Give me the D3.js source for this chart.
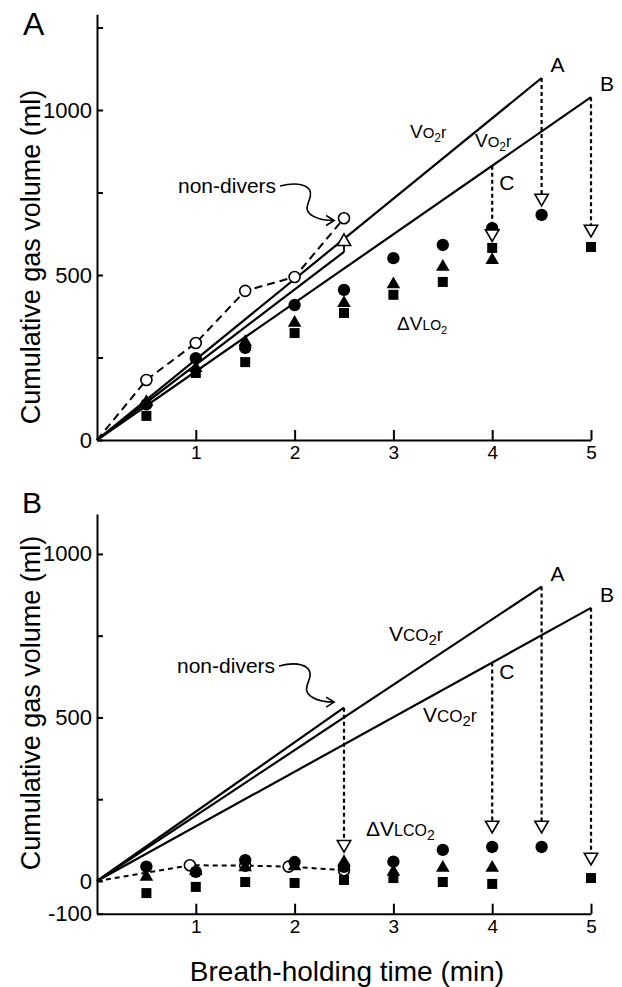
<!DOCTYPE html>
<html>
<head>
<meta charset="utf-8">
<script src="https://cdn.jsdelivr.net/npm/d3@7"></script>
<style>
  html, body { margin: 0; padding: 0; background: #fff; }
  svg { display: block; font-family: "Liberation Sans", Arial, Helvetica, sans-serif; }
</style>
</head>
<body>
<svg id="chart" width="622" height="987"></svg>
<script>
// sample times (min)
const times = [0.5, 1, 1.5, 2, 2.5, 3, 3.5, 4, 4.5, 5];
const xTickValues = [1, 2, 3, 4, 5];

// panel A: O2 (ml)
const o2Circle = [108, 248, 279, 409, 455, 551, 591, 642, 682, null];
const o2Triangle = [115, 218, 297, 355, 415, 472, 525, 545, null, null];
const o2Square = [73, 203, 236, 324, 385, 440, 479, 582, null, 585];
const o2NonDivTime = [0, 0.5, 1, 1.5, 2, 2.5];
const o2NonDiv = [0, 182, 294, 452, 494, 672];
const o2Lines = [
  { label: 'A', t: 4.5, v: 1097 },
  { label: 'B', t: 5, v: 1039 },
  { label: '', t: 2.5, v: 570 }
];
const o2Drops = [
  { t: 4, from: 831, to: 625 },
  { t: 4.5, from: 1097, to: 733 },
  { t: 5, from: 1039, to: 639 }
];
const o2NonDivMark = { t: 2.5, from: 570, to: 601 };
const o2YTicks = [0, 250, 500, 750, 1000, 1250];
const o2YLabels = [0, 500, 1000];

// panel B: CO2 (ml)
const co2Circle = [44, 28, 64, 58, 43, 59, 95, 104, 104, null];
const co2Triangle = [13, 30, 42, 45, 58, 28, 40, 40, null, null];
const co2Square = [-37, -18, -3, -6, 3, 9, -3, -9, null, 9];
const co2NonDivTime = [0, 0.94, 1.5, 1.94, 2.5];
const co2NonDiv = [0, 48, 47, 44, 33];
const co2Lines = [
  { label: 'A', t: 4.5, v: 900 },
  { label: 'B', t: 5, v: 835 },
  { label: '', t: 2.5, v: 530 }
];
const co2Drops = [
  { t: 2.5, from: 530, to: 112 },
  { t: 4, from: 668, to: 171 },
  { t: 4.5, from: 900, to: 171 },
  { t: 5, from: 835, to: 73 }
];
const co2YTicks = [-100, 0, 250, 500, 750, 1000];
const co2YLabels = [-100, 0, 500, 1000];

const svg = d3.select('#chart');
const x = d3.scaleLinear().domain([0, 5]).range([97, 591]);

function styleAxis(sel, size) {
  sel.attr('font-family', null).attr('font-size', null);
  sel.select('.domain').attr('stroke', '#000').attr('stroke-width', 2);
  sel.selectAll('.tick line').attr('stroke', '#000').attr('stroke-width', 2);
  sel.selectAll('.tick text').attr('font-size', size).attr('fill', '#000');
}

function chemLabel(g, px, py, parts) {
  const t = g.append('text').attr('x', px).attr('y', py).attr('fill', '#000');
  parts.forEach(([s, size, dy]) => {
    t.append('tspan').attr('font-size', size).attr('dy', dy || 0).text(s);
  });
  return t;
}

function curlyArrow(g, x0, y0, x1, y1) {
  const dx = x1 - x0, dy = y1 - y0;
  const p = d3.path();
  p.moveTo(x0, y0);
  p.bezierCurveTo(x0 + 0.3 * dx, y0 - 0.12 * dy, x0 + 0.6 * dx, y0 - 0.06 * dy, x0 + 0.56 * dx, y0 + 0.3 * dy);
  p.bezierCurveTo(x0 + 0.52 * dx, y0 + 0.55 * dy, x0 + 0.42 * dx, y0 + 0.7 * dy, x0 + 0.62 * dx, y0 + 0.88 * dy);
  p.bezierCurveTo(x0 + 0.72 * dx, y0 + 0.97 * dy, x0 + 0.85 * dx, y0 + dy, x1, y1);
  p.moveTo(x1 - 8, y1 - 5);
  p.lineTo(x1, y1);
  p.lineTo(x1 - 8, y1 + 5);
  g.append('path').attr('d', p.toString())
    .attr('fill', 'none').attr('stroke', '#000').attr('stroke-width', 1.6);
}

function drawPanel(p) {
  const y = p.y;
  const g = svg.append('g');

  // regression lines
  g.selectAll('line.reg').data(p.lines).join('line')
    .attr('class', 'reg')
    .attr('x1', x(0)).attr('y1', y(0))
    .attr('x2', d => x(d.t)).attr('y2', d => y(d.v))
    .attr('stroke', '#000').attr('stroke-width', 2.2);

  // non-divers dashed series
  const nd = p.ndTime.map((t, i) => [t, p.ndVal[i]]);
  g.append('path').datum(nd)
    .attr('d', d3.line().x(d => x(d[0])).y(d => y(d[1])))
    .attr('fill', 'none').attr('stroke', '#000').attr('stroke-width', 2)
    .attr('stroke-dasharray', p.dash);
  g.selectAll('circle.nd').data(nd.filter(d => d[0] > 0)).join('circle')
    .attr('class', 'nd')
    .attr('cx', d => x(d[0])).attr('cy', d => y(d[1])).attr('r', 5.5)
    .attr('fill', '#fff').attr('stroke', '#000').attr('stroke-width', 1.6);

  // filled markers
  const marks = [
    [p.circles, d3.symbolCircle, 120],
    [p.triangles, d3.symbolTriangle, 80],
    [p.squares, d3.symbolSquare, 100]
  ];
  marks.forEach(([vals, type, size]) => {
    g.append('g').selectAll('path')
      .data(times.map((t, i) => [t, vals[i]]).filter(d => d[1] != null))
      .join('path')
      .attr('d', d3.symbol().type(type).size(size)())
      .attr('transform', d => `translate(${x(d[0])},${y(d[1])})`)
      .attr('fill', '#000');
  });

  // dotted drops ending in open down-triangles
  const drops = g.append('g');
  drops.selectAll('line').data(p.drops).join('line')
    .attr('x1', d => x(d.t)).attr('x2', d => x(d.t))
    .attr('y1', d => y(d.from)).attr('y2', d => y(d.to) - 4)
    .attr('stroke', '#000').attr('stroke-width', 2.2)
    .attr('stroke-dasharray', '4,3');
  drops.selectAll('path').data(p.drops).join('path')
    .attr('d', d3.symbol().type(d3.symbolTriangle).size(78)())
    .attr('transform', d => `translate(${x(d.t)},${y(d.to)}) rotate(180)`)
    .attr('fill', '#fff').attr('stroke', '#000').attr('stroke-width', 1.6);

  if (p.ndMark) {
    const m = p.ndMark;
    g.append('line')
      .attr('x1', x(m.t)).attr('x2', x(m.t))
      .attr('y1', y(m.from)).attr('y2', y(m.to) + 3)
      .attr('stroke', '#000').attr('stroke-width', 1.8);
    g.append('path')
      .attr('d', d3.symbol().type(d3.symbolTriangle).size(78)())
      .attr('transform', `translate(${x(m.t)},${y(m.to)})`)
      .attr('fill', '#fff').attr('stroke', '#000').attr('stroke-width', 1.6);
  }

  // axes
  g.append('g').attr('transform', `translate(${x(0)},0)`)
    .call(d3.axisLeft(y).tickValues(p.yTicks).tickSize(-6).tickSizeOuter(0).tickPadding(5)
      .tickFormat(d => p.yLabels.includes(d) ? String(d) : ''))
    .call(styleAxis, 22);
  g.append('g').attr('transform', `translate(0,${y(p.yMin)})`)
    .call(d3.axisBottom(x).tickValues(xTickValues).tickSize(-10).tickSizeOuter(0).tickPadding(6)
      .tickFormat(d => String(d)))
    .call(styleAxis, 19);

  // line end letters
  p.lines.filter(d => d.label).forEach(d => {
    g.append('text').attr('x', x(d.t) + 9).attr('y', y(d.v) - 6)
      .attr('font-size', 21).attr('fill', '#000').text(d.label);
  });
  g.append('text').attr('x', x(4) + 7).attr('y', p.cLabelY)
    .attr('font-size', 21).attr('fill', '#000').text('C');

  // chemistry labels
  p.chem.forEach(c => chemLabel(g, c.x, c.y, c.parts));

  // non-divers label + arrow
  const nt = g.append('text').attr('x', p.ndLabel[0]).attr('y', p.ndLabel[1])
    .attr('font-size', 21).attr('fill', '#000').text('non-divers');
  const len = nt.node().getComputedTextLength();
  curlyArrow(g, p.ndLabel[0] + len + 4, p.ndLabel[1] - 7, x(p.arrowTo[0]), y(p.arrowTo[1]));

  // panel letter and y title
  g.append('text').attr('x', p.letter[0]).attr('y', p.letter[1])
    .attr('font-size', p.letter[2]).attr('fill', '#000').text(p.letter[3]);
  g.append('text')
    .attr('transform', `translate(40,${p.titleY}) rotate(-90)`)
    .attr('text-anchor', 'middle').attr('font-size', 27).attr('fill', '#000')
    .text('Cumulative gas volume (ml)');
}

const yTop = d3.scaleLinear().domain([0, 1290]).range([440, 14.3]);
const yBot = d3.scaleLinear().domain([-100, 1122]).range([913.7, 514]);

drawPanel({
  y: yTop, yMin: 0, yTicks: o2YTicks, yLabels: o2YLabels,
  lines: o2Lines, drops: o2Drops, ndMark: o2NonDivMark,
  ndTime: o2NonDivTime, ndVal: o2NonDiv, dash: '8,5',
  circles: o2Circle, triangles: o2Triangle, squares: o2Square,
  cLabelY: 190,
  chem: [
    { x: 410, y: 138, parts: [['V', 19], ['O', 15], ['2', 12, 4], ['r', 16, -4]] },
    { x: 475, y: 147, parts: [['V', 19], ['O', 15], ['2', 12, 4], ['r', 16, -4]] },
    { x: 397, y: 330, parts: [['\u0394V', 19], ['LO', 14], ['2', 11, 4]] }
  ],
  ndLabel: [178, 193], arrowTo: [2.4, 665],
  letter: [23, 35, 32, 'A'], titleY: 257
});

drawPanel({
  y: yBot, yMin: -100, yTicks: co2YTicks, yLabels: co2YLabels,
  lines: co2Lines, drops: co2Drops, ndMark: null,
  ndTime: co2NonDivTime, ndVal: co2NonDiv, dash: '5,4',
  circles: co2Circle, triangles: co2Triangle, squares: co2Square,
  cLabelY: 679,
  chem: [
    { x: 389, y: 641, parts: [['V', 21], ['CO', 17], ['2', 15, 4], ['r', 18, -4]] },
    { x: 423, y: 722, parts: [['V', 21], ['CO', 17], ['2', 15, 4], ['r', 18, -4]] },
    { x: 366, y: 836, parts: [['\u0394V', 21], ['LCO', 16], ['2', 14, 4]] }
  ],
  ndLabel: [177, 673], arrowTo: [2.4, 547],
  letter: [22, 513, 30, 'B'], titleY: 703
});

svg.append('text')
  .attr('x', 347).attr('y', 981)
  .attr('text-anchor', 'middle').attr('font-size', 28).attr('fill', '#000')
  .text('Breath-holding time (min)');
</script>
</body>
</html>
